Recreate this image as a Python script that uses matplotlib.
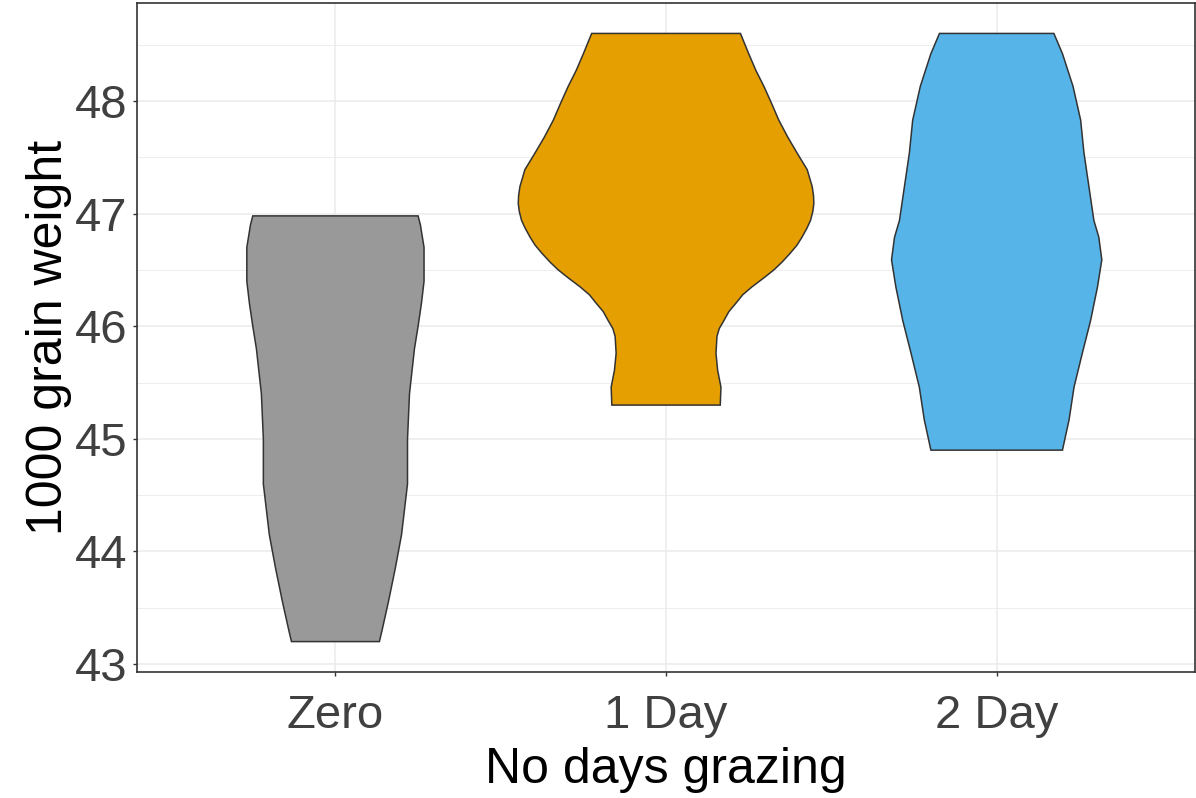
import numpy as np
import matplotlib
matplotlib.use("Agg")
import matplotlib.pyplot as plt

plt.rcParams['font.family'] = ['Liberation Sans', 'DejaVu Sans']

# Groups and colours
groups = ["Zero", "1 Day", "2 Day"]
colors = ["#999999", "#E69F00", "#56B4E9"]

# Violin outlines: weight level and half-width (x units)
zero_y = [46.98, 46.9, 46.7, 46.4, 46.2, 46.0, 45.8, 45.4, 45.0, 44.6, 44.45,
          44.15, 43.85, 43.55, 43.3, 43.2]
zero_hw = [0.250, 0.257, 0.268, 0.268, 0.260, 0.250, 0.239, 0.224, 0.218, 0.218,
           0.212, 0.200, 0.181, 0.160, 0.141, 0.133]

day1_y = [48.6, 48.42, 48.27, 48.13, 47.98, 47.83, 47.68, 47.54, 47.39, 47.24,
          47.16, 47.09, 47.02, 46.94, 46.87, 46.79, 46.72, 46.65, 46.57, 46.50,
          46.43, 46.35, 46.28, 46.20, 46.13, 46.05, 45.98, 45.91, 45.76, 45.61,
          45.46, 45.3]
day1_hw = [0.225, 0.250, 0.272, 0.296, 0.319, 0.341, 0.368, 0.396, 0.427, 0.442,
           0.446, 0.447, 0.444, 0.437, 0.426, 0.411, 0.396, 0.376, 0.351, 0.326,
           0.296, 0.260, 0.232, 0.210, 0.190, 0.175, 0.161, 0.154, 0.151, 0.156,
           0.166, 0.164]

day2_y = [48.6, 48.42, 48.13, 47.83, 47.54, 47.24, 46.94, 46.79, 46.59, 46.35,
          46.05, 45.76, 45.46, 45.17, 44.9]
day2_hw = [0.173, 0.199, 0.231, 0.254, 0.264, 0.279, 0.294, 0.309, 0.318, 0.305,
           0.284, 0.259, 0.234, 0.219, 0.199]

profiles = [(zero_y, zero_hw), (day1_y, day1_hw), (day2_y, day2_hw)]

fig = plt.figure(figsize=(11.96, 7.98), dpi=100)
ax = fig.add_axes([0.1146, 0.1579, 0.8846, 0.8383])

for i, (ys, hws) in enumerate(profiles):
    pos = i + 1
    ys = np.array(ys)
    hws = np.array(hws)
    xs = np.concatenate([pos - hws, (pos + hws)[::-1]])
    yy = np.concatenate([ys, ys[::-1]])
    ax.fill(xs, yy, facecolor=colors[i], edgecolor="#333333", linewidth=1.1, zorder=3)

ax.set_xlim(0.4, 3.6)
ax.set_ylim(42.93, 48.87)
ax.set_xticks([1, 2, 3])
ax.set_xticklabels(groups)
ax.set_yticks([43, 44, 45, 46, 47, 48])
ax.set_yticks(np.arange(43.5, 48.6, 1.0), minor=True)

ax.grid(True, which="major", color="#EBEBEB", linewidth=1.1, zorder=0)
ax.grid(True, which="minor", axis="y", color="#EBEBEB", linewidth=0.6, zorder=0)
ax.set_axisbelow(True)

for s in ax.spines.values():
    s.set_color("#333333")
    s.set_linewidth(1.2)

ax.tick_params(axis="both", which="major", length=3, width=1, color="#333333",
               labelsize=34, labelcolor="#404040", pad=4)
ax.tick_params(axis="x", pad=13)
ax.tick_params(which="minor", length=0)

ax.set_xlabel("No days grazing", fontsize=36, color="black", labelpad=6)
ax.set_ylabel("1000 grain weight", fontsize=36, color="black", labelpad=2)

fig.savefig("out.png", dpi=100)
